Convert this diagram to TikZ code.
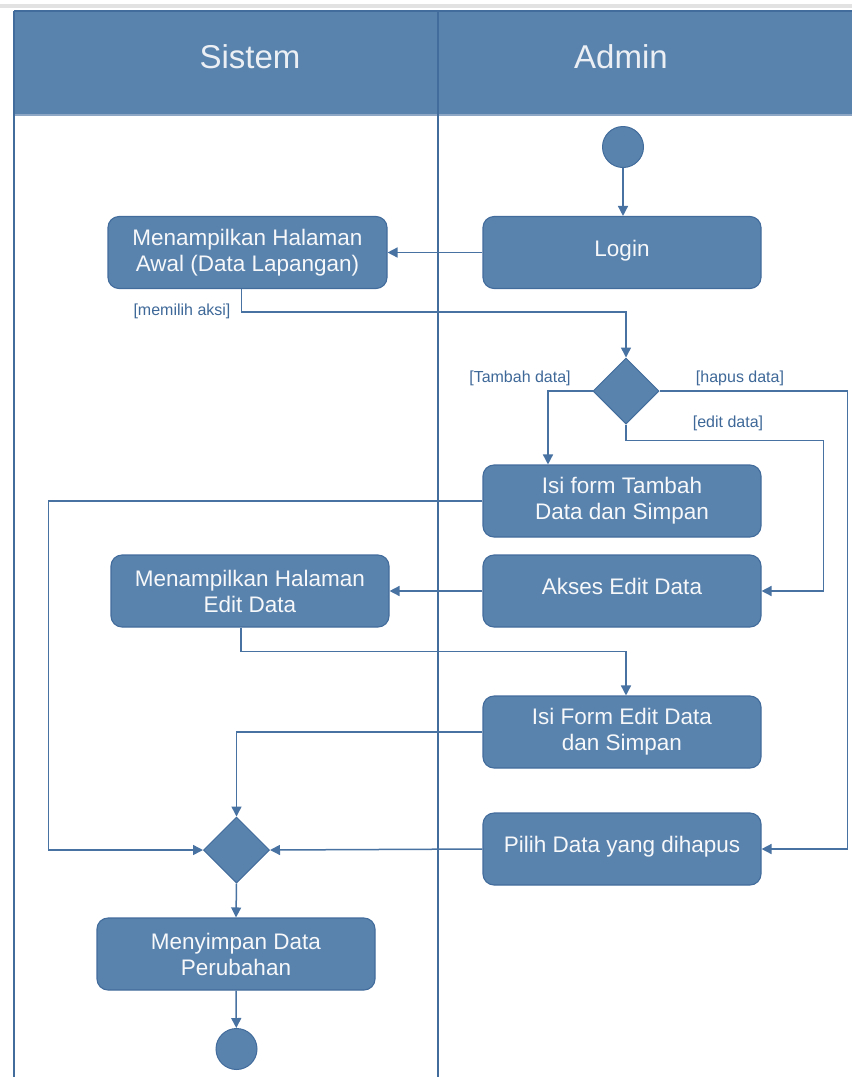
\documentclass[tikz,border=0pt]{standalone}
\usepackage{fontspec}
\setmainfont{Liberation Sans}
\usetikzlibrary{arrows.meta,shapes.geometric}

\definecolor{lanefill}{RGB}{89,130,173}
\definecolor{laneline}{RGB}{66,108,156}
\definecolor{flowline}{RGB}{72,114,162}
\definecolor{guardtxt}{RGB}{62,104,152}
\definecolor{toprule}{RGB}{226,226,226}
\definecolor{hdrtxt}{RGB}{236,240,245}
\definecolor{acttxt}{RGB}{246,248,250}

\begin{document}
\begin{tikzpicture}[x=1pt,y=-1pt,
  act/.style={draw=laneline, line width=1.1pt, fill=lanefill, rounded corners=11pt,
    text=acttxt, align=center, font=\fontsize{22.5}{26}\selectfont,
    inner sep=0pt, minimum width=278pt, minimum height=72pt},
  oneline/.style={text height=16pt, text depth=9pt},
  decide/.style={diamond, draw=laneline, line width=1pt, fill=lanefill,
    inner sep=0pt, minimum width=66pt, minimum height=66pt},
  terminal/.style={circle, draw=laneline, line width=1pt, fill=lanefill,
    inner sep=0pt, minimum size=41pt},
  flow/.style={draw=flowline, line width=1.5pt, -{Triangle[length=10pt,width=10pt]}},
  guard/.style={text=guardtxt, font=\fontsize{16}{18}\selectfont, inner sep=0pt},
  lanehead/.style={text=hdrtxt, font=\fontsize{33}{36}\selectfont, inner sep=0pt},
  laneborder/.style={draw=laneline, line width=1.6pt}]

\useasboundingbox (0,0) rectangle (852,1077);

% thin grey rule above the swimlanes
\fill[toprule] (0,3.5) rectangle (852,7.5);

% swimlane header band and lane borders
\fill[lanefill] (14,11) rectangle (852,115);
\draw[laneborder] (14,11) -- (852,11);
\draw[draw=laneline!60, line width=1.4pt] (14,115) -- (852,115);
\draw[laneborder] (14,11) -- (14,1077);
\draw[laneborder] (438,11) -- (438,1077);
\node[lanehead] (sistem) at (250,57) {Sistem};
\node[lanehead] (admin) at (621,57) {Admin};

% activity nodes
\node[terminal] (start) at (623,147) {};
\node[act, oneline] (login) at (622,252.5) {Login};
\node[act, minimum width=279pt] (awal) at (247.5,252.5) {Menampilkan Halaman\\Awal (Data Lapangan)};
\node[decide] (dec) at (626,391) {};
\node[act] (tambah) at (622,501) {Isi form Tambah\\Data dan Simpan};
\node[act, oneline] (akses) at (622,591) {Akses Edit Data};
\node[act] (editpg) at (250,591) {Menampilkan Halaman\\Edit Data};
\node[act] (isiedit) at (622,732) {Isi Form Edit Data\\dan Simpan};
\node[act, oneline] (pilih) at (622,849) {Pilih Data yang dihapus};
\node[decide] (merge) at (236.5,850) {};
\node[act] (simpan) at (236,954) {Menyimpan Data\\Perubahan};
\node[terminal] (end) at (236.5,1049) {};

% guard labels
\node[guard] (gaksi) at (182,311) {[memilih aksi]};
\node[guard] (gtambah) at (520,378) {[Tambah data]};
\node[guard] (ghapus) at (740,378) {[hapus data]};
\node[guard] (gedit) at (728,423) {[edit data]};

% control flow
\draw[flow] (start) -- (start |- login.north);
\draw[flow] (login.west) -- (awal.east);
\draw[flow] ([xshift=-6pt]awal.south) -- ++(0,23) -| (dec.north);
\draw[flow] (dec.west) -| ([xshift=-74pt]tambah.north);
\draw[flow] (dec.east) -- ++(188,0) |- (pilih.east);
\draw[flow] (dec.south) -- ++(0,16) -| ([xshift=62pt]akses.east) -- (akses.east);
\draw[flow] (tambah.west) -- ++(-434,0) |- (merge.west);
\draw[flow] (akses.west) -- (editpg.east);
\draw[flow] ([xshift=-9pt]editpg.south) -- ++(0,24) -| ([xshift=4pt]isiedit.north);
\draw[flow] (isiedit.west) -| (merge.north);
\draw[flow] (pilih.west) -- (merge.east);
\draw[flow] (merge.south) -- (simpan.north);
\draw[flow] (simpan.south) -- (end);

\end{tikzpicture}
\end{document}
